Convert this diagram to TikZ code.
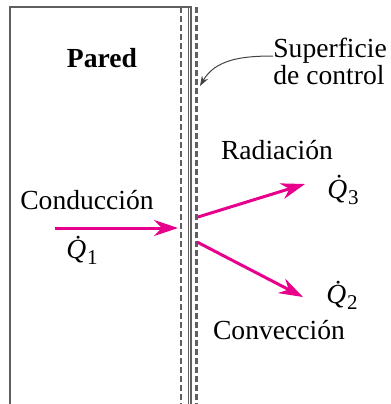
\documentclass[tikz,border=0pt]{standalone}
\usepackage{fontspec}
\setmainfont{Liberation Serif}
\usetikzlibrary{arrows.meta}
\definecolor{flujo}{RGB}{232,0,140}
\definecolor{muro}{RGB}{95,95,95}
\newcommand{\flujoQ}[1]{{\itshape\.{Q}}\kern0.5pt\raisebox{-0.45ex}{\fontsize{10.5}{10.5}\selectfont #1}}

\begin{document}
\begin{tikzpicture}[x=0.5pt, y=-0.5pt,
  every node/.style = {font=\fontsize{13.8}{12.5}\selectfont, inner sep=0pt},
  pared/.style = {draw=muro, line width=0.9pt},
  control/.style = {draw=muro, line width=1.1pt, dash pattern=on 3pt off 1.5pt},
  calor/.style = {draw=flujo, line width=1.5pt, -{Stealth[length=12pt,width=8pt]}}]
  \useasboundingbox (0,0) rectangle (391,404);
  % pared y superficie de control
  \draw[pared] (10,404) -- (10,7) -- (191,7) -- (191,404);
  \draw[muro, line width=0.6pt] (188.3,7) -- (188.3,404);
  \draw[control] (181,7) -- (181,404);
  \draw[control] (196.5,7) -- (196.5,404);
  % textos
  \node[font=\fontsize{13.8}{12.5}\bfseries] (pared) at (102,58) {Pared};
  \node[align=left, anchor=west] (sup) at (273,61) {Superficie\\de control};
  \node (rad) at (277,150) {Radiaci\'on};
  \node (cond) at (87,200) {Conducci\'on};
  \node (conv) at (279,330) {Convecci\'on};
  \node (q1) at (82,250) {\flujoQ{1}};
  \node (q3) at (343,190) {\flujoQ{3}};
  \node (q2) at (342,295) {\flujoQ{2}};
  % flechas
  \coordinate (cond-ini) at (55,228);
  \coordinate (cond-fin) at (178,228);
  \coordinate (rad-ini) at (198,217);
  \coordinate (rad-fin) at (305,184);
  \coordinate (conv-ini) at (197,242);
  \coordinate (conv-fin) at (303,297);
  \coordinate (sup-fin) at (200,86);
  \draw[calor] (cond-ini) -- (cond-fin);
  \draw[calor] (rad-ini) -- (rad-fin);
  \draw[calor] (conv-ini) -- (conv-fin);
  \draw[muro!70!black, line width=0.5pt, -{Stealth[length=5pt,width=3.5pt]}]
    (sup.west |- 0,56) to[out=180, in=60] (sup-fin);
\end{tikzpicture}
\end{document}
